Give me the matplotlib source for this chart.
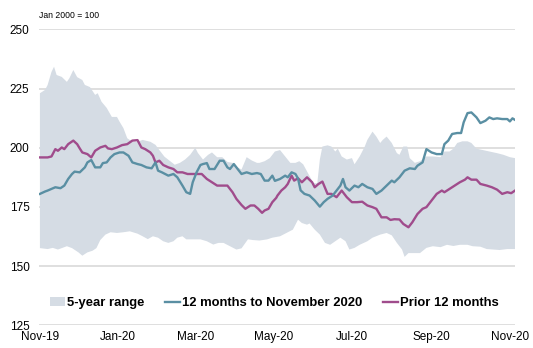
import numpy as np
import pandas as pd
import matplotlib
matplotlib.use("Agg")
import matplotlib.pyplot as plt
import matplotlib.dates as mdates

plt.rcParams['font.family'] = ['Liberation Sans', 'DejaVu Sans']

start = pd.Timestamp('2019-11-01')

# 5-year range, upper edge (days since 1 Nov 2019, index level)
upper_days = [0, 4, 6, 9, 11, 13, 17, 21, 23, 26, 29, 33, 35, 39, 43, 45, 48, 52, 56, 60,
              62, 65, 68, 72, 76, 80, 86, 90, 93, 97, 101, 105, 109, 113, 117, 121, 123, 127,
              131, 134, 138, 142, 146, 150, 153, 157, 161, 165, 169, 171, 175, 179, 183, 187,
              191, 195, 199, 202, 205, 209, 213, 216, 218, 220, 224, 227, 230, 232, 235, 239,
              243, 245, 249, 253, 255, 259, 262, 265, 267, 270, 274, 278, 280, 283, 286, 288,
              292, 296, 301, 306, 312, 315, 319, 322, 325, 329, 333, 336, 340, 345, 350, 356,
              361, 366, 370]
upper_vals = [223, 224.4, 226.5, 232, 234.2, 230.7, 229.9, 227.8, 229.4, 232.8, 229.8, 228.6,
              226.5, 225.6, 222.3, 223, 219.4, 216.8, 213, 213, 211, 208.3, 204, 202.5, 202.5,
              203.3, 202.5, 201.2, 199, 196.2, 194.5, 192.8, 193.6, 195, 197, 200, 197.8, 195,
              197, 198, 196, 196, 194, 193.6, 192, 190.8, 196, 194.6, 193.6, 193.6, 194.3,
              195.6, 198.4, 199, 196.3, 193.6, 193.6, 194.3, 193, 189, 185, 185, 195, 200.5,
              201, 200.5, 198.4, 199.6, 196.3, 195, 195.6, 193, 196.3, 200.5, 203.3, 206.8,
              204.7, 202, 203.3, 204.7, 202, 197.7, 197, 200.5, 200.5, 195.6, 193.6, 194.3,
              196.3, 196.3, 196, 198.4, 198.4, 199.6, 202, 202.7, 202.7, 202, 199.6, 199,
              198.4, 197.7, 197, 196, 195.6]

# 5-year range, lower edge
lower_days = [0, 6, 10, 14, 21, 25, 30, 33, 37, 41, 44, 47, 51, 55, 60, 65, 70, 76, 80, 84,
              88, 92, 96, 100, 104, 107, 111, 114, 119, 125, 130, 135, 139, 143, 148, 153, 157,
              162, 166, 171, 177, 181, 187, 192, 197, 201, 204, 208, 210, 214, 218, 222, 226,
              230, 234, 238, 241, 245, 249, 255, 259, 265, 270, 274, 278, 282, 284, 287, 290,
              296, 301, 306, 312, 317, 322, 327, 333, 337, 343, 348, 353, 358, 364, 370]
lower_vals = [157.6, 157.2, 157.7, 157, 158.4, 157.6, 155.8, 154.4, 155.8, 156.5, 157.6, 161,
              163.3, 164.3, 164, 164.3, 164.7, 163.7, 162.6, 161.4, 162.6, 162, 160.5, 159.8,
              160.5, 162, 162.6, 161.3, 161.3, 161.3, 160.5, 159.1, 159.8, 159.8, 158.4, 157,
              157.5, 161.3, 161, 160.8, 161.3, 162, 162.6, 164, 165.4, 169.6, 168.2, 167.5, 168,
              165.4, 163.3, 159.8, 159, 160.5, 162, 160.5, 157, 157.7, 159, 160.5, 162, 163.3,
              164, 163, 159.8, 157, 153.9, 155.5, 155.5, 155.5, 157.7, 158.4, 158, 159, 158.5,
              159, 159, 158.4, 158.2, 157.2, 157, 156.8, 157.2, 157.2]

# 12 months to November 2020
cur_days = [0, 4, 6, 9, 12, 16, 19, 22, 25, 27, 31, 35, 37, 40, 43, 47, 49, 52, 55, 58, 62,
            65, 69, 72, 76, 79, 83, 87, 90, 92, 95, 100, 104, 107, 111, 114, 117, 119, 122,
            125, 127, 130, 132, 136, 140, 143, 146, 148, 151, 154, 157, 161, 165, 169, 172,
            175, 178, 181, 183, 187, 191, 193, 196, 199, 201, 203, 206, 210, 214, 218, 221,
            224, 228, 231, 234, 236, 238, 241, 245, 248, 251, 255, 259, 262, 266, 270, 274,
            276, 280, 284, 288, 292, 294, 298, 301, 305, 309, 313, 315, 318, 321, 325, 328,
            330, 333, 336, 340, 343, 347, 350, 353, 356, 360, 364, 366, 368, 371]
cur_vals = [180.5, 181.5, 181.9, 182.6, 183.3, 182.9, 184, 186.8, 188.9, 189.9, 189.6, 191.7,
            193.8, 194.8, 191.7, 191.7, 193.5, 193.8, 195.9, 197.3, 198, 198, 196.6, 193.8,
            193.1, 192.7, 191.7, 191.3, 193.8, 190.3, 189.6, 188.2, 188.9, 187.5, 184, 181.2,
            180.5, 185.4, 189.6, 192.7, 193.1, 193.5, 191, 191, 194.5, 194.5, 191.7, 191,
            193.1, 191, 188.9, 189.6, 188.9, 189.3, 188.9, 186.1, 186.1, 188.2, 186, 186.8,
            188.2, 187.5, 189.6, 188.9, 187, 182, 180.5, 179.8, 177.7, 175.1, 177, 178.4,
            179.8, 181.9, 184, 186.8, 183.3, 181.9, 184, 183.3, 184.7, 183.3, 182.6, 180.5,
            181.9, 184, 186.1, 185.4, 187.5, 190.3, 191.3, 191, 192.4, 193.8, 199.4, 198,
            197.3, 197.3, 201.5, 203, 205.8, 206.2, 206.2, 210.7, 214.6, 214.9, 212.8, 210.4,
            211.4, 212.8, 212.1, 212.4, 212.1, 212.1, 211.1, 212.4, 211.4]

# Prior 12 months
prior_days = [0, 6, 9, 12, 14, 17, 19, 22, 26, 29, 31, 33, 37, 40, 43, 47, 51, 53, 56, 60,
              64, 68, 72, 76, 79, 82, 86, 88, 90, 93, 96, 100, 104, 107, 111, 115, 119, 123,
              126, 130, 134, 138, 142, 146, 150, 153, 157, 160, 164, 167, 170, 173, 175, 178,
              181, 184, 185, 188, 191, 193, 196, 198, 201, 204, 208, 212, 214, 217, 220, 224,
              227, 231, 235, 239, 243, 247, 251, 255, 259, 262, 266, 270, 273, 276, 280, 283,
              287, 290, 294, 298, 301, 305, 309, 313, 315, 319, 323, 327, 331, 333, 336, 340,
              343, 348, 352, 356, 360, 364, 367, 370]
prior_vals = [195.9, 195.9, 196.3, 199.4, 198.7, 200.1, 199.4, 201.5, 203, 201.5, 199.7, 198,
              197.3, 195.9, 198.7, 200.1, 200.8, 199.7, 199.4, 200.1, 201.1, 201.5, 203, 203.2,
              200.1, 199.4, 198, 196.6, 193.8, 194.5, 192.7, 191.7, 191, 189.6, 189.6, 188.9,
              188.9, 188.9, 188.9, 186.8, 185.4, 184, 184, 184, 181.2, 178.4, 175.8, 174.2,
              175.6, 175.6, 174.2, 172.5, 173.5, 174.2, 177, 178.8, 179.8, 181.9, 183.3, 184.7,
              188.2, 186.1, 187.1, 185.4, 187.5, 185.4, 183.3, 184.7, 185.7, 180.5, 180.5,
              179.1, 181.9, 179.1, 177, 177, 177.2, 175.6, 174.9, 174.2, 170.6, 170.6, 169.5,
              169.8, 169.7, 167.8, 166.4, 168.5, 172, 174.2, 174.9, 177.7, 180.5, 181.9, 181.2,
              182.6, 184, 185.4, 186.5, 187.5, 186.5, 186.5, 184.7, 184, 183.3, 182.3, 180.5,
              181.2, 180.8, 181.9]

yticks = [125, 150, 175, 200, 225, 250]


def to_dates(days):
    return start + pd.to_timedelta(days, unit='D')


band_color = '#D5DCE4'
cur_color = '#5A8FA3'
prior_color = '#A04C8C'

fig = plt.figure(figsize=(5.33, 3.48), dpi=100)
ax = fig.add_axes([0.0737, 0.0652, 0.8933, 0.8506])

band_x = np.concatenate([mdates.date2num(to_dates(upper_days)),
                         mdates.date2num(to_dates(lower_days))[::-1]])
band_y = np.concatenate([upper_vals, lower_vals[::-1]])
ax.fill(band_x, band_y, color=band_color, lw=0, label='5-year range', zorder=1)

ax.plot(to_dates(cur_days), cur_vals, color=cur_color, lw=1.7,
        label='12 months to November 2020', zorder=3)
ax.plot(to_dates(prior_days), prior_vals, color=prior_color, lw=1.7,
        label='Prior 12 months', zorder=2)

ax.set_ylim(125, 250)
ax.set_yticks(yticks)
ax.set_xlim(start - pd.Timedelta(days=0.5), start + pd.Timedelta(days=370.3))
ax.xaxis.set_major_locator(mdates.MonthLocator(bymonth=[1, 3, 5, 7, 9, 11]))
ax.xaxis.set_major_formatter(mdates.DateFormatter('%b-%y'))

ax.grid(axis='y', color='#D9D9D9', lw=1.2)
ax.set_axisbelow(True)
for s in ax.spines.values():
    s.set_visible(False)
ax.tick_params(axis='both', length=0, labelsize=8.5, colors='black')
ax.tick_params(axis='y', pad=7)
ax.tick_params(axis='x', pad=4)

leg = ax.legend(loc='center', bbox_to_anchor=(0.494, 0.075), ncol=3, frameon=False,
                handlelength=1.15, handletextpad=0.15, columnspacing=1.6,
                prop={'weight': 'bold', 'size': 9.4})

fig.text(39 / 533, 1 - 15.7 / 348, 'Jan 2000 = 100', fontsize=6.2, va='center', ha='left')

fig.savefig('out.png', dpi=100)
